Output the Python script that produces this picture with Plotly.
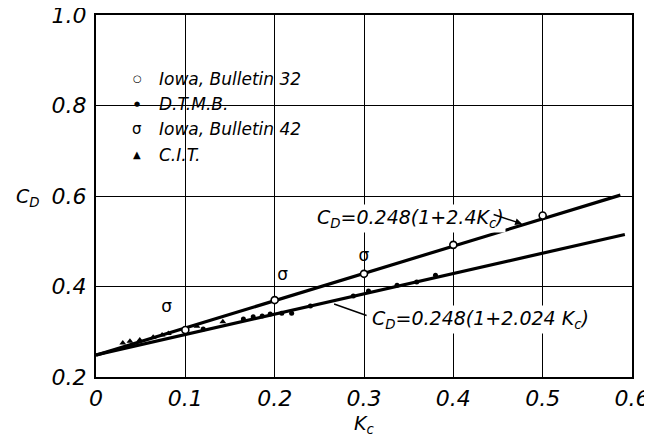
import plotly.graph_objects as go

# ---- data ----
iowa32_x = [0.10, 0.20, 0.30, 0.40, 0.50]
iowa32_y = [0.304, 0.370, 0.428, 0.492, 0.557]

dtmb_x = [0.100, 0.120, 0.165, 0.176, 0.186, 0.195, 0.208, 0.219, 0.240, 0.288, 0.305, 0.337, 0.359, 0.380]
dtmb_y = [0.298, 0.306, 0.328, 0.333, 0.335, 0.339, 0.341, 0.341, 0.357, 0.379, 0.390, 0.403, 0.410, 0.425]

iowa42_x = [0.079, 0.209, 0.300]
iowa42_y = [0.352, 0.423, 0.466]

cit_x = [0.030, 0.038, 0.049, 0.064, 0.074, 0.081, 0.113, 0.142]
cit_y = [0.275, 0.279, 0.282, 0.288, 0.293, 0.296, 0.312, 0.322]

upper_line_x = [0.0, 0.587]
upper_line_y = [0.248, 0.602]
lower_line_x = [0.0, 0.592]
lower_line_y = [0.249, 0.515]

x_ticks = [0, 0.1, 0.2, 0.3, 0.4, 0.5, 0.6]
x_ticklabels = ["0", "0.1", "0.2", "0.3", "0.4", "0.5", "0.6"]
y_ticks = [0.2, 0.4, 0.6, 0.8, 1.0]
y_ticklabels = ["0.2", "0.4", "0.6", "0.8", "1.0"]

legend_labels = ["Iowa, Bulletin 32", "D.T.M.B.", "Iowa, Bulletin 42", "C.I.T."]
legend_symbols = ["○", "●", "σ", "▲"]

FONT = "DejaVu Sans"

fig = go.Figure()

fig.add_trace(go.Scatter(x=upper_line_x, y=upper_line_y, mode="lines",
                         line=dict(color="black", width=3.2), showlegend=False))
fig.add_trace(go.Scatter(x=lower_line_x, y=lower_line_y, mode="lines",
                         line=dict(color="black", width=3.2), showlegend=False))

fig.add_trace(go.Scatter(x=cit_x, y=cit_y, mode="markers",
                         marker=dict(symbol="triangle-up", size=6, color="black"),
                         showlegend=False))
fig.add_trace(go.Scatter(x=dtmb_x, y=dtmb_y, mode="markers",
                         marker=dict(symbol="circle", size=5, color="black"),
                         showlegend=False))
fig.add_trace(go.Scatter(x=iowa32_x, y=iowa32_y, mode="markers",
                         marker=dict(symbol="circle", size=7, color="white",
                                     line=dict(color="black", width=1.6)),
                         showlegend=False))
fig.add_trace(go.Scatter(x=iowa42_x, y=iowa42_y, mode="text", text=["σ"] * len(iowa42_x),
                         textfont=dict(family=FONT, size=17, color="black"),
                         textposition="middle center", showlegend=False))

# legend drawn as text
leg_y = [0.859, 0.803, 0.748, 0.691]
leg_sizes = [10, 7, 15, 10]
for sym, lab, yy, sz in zip(legend_symbols, legend_labels, leg_y, leg_sizes):
    fig.add_annotation(x=0.046, y=yy, text=sym, showarrow=False, xanchor="center",
                       font=dict(family=FONT, size=sz, color="black"))
    fig.add_annotation(x=0.068, y=yy, text=lab, showarrow=False, xanchor="left",
                       font=dict(family=FONT, size=17, color="black", style="italic"))

# equations
fig.add_annotation(x=0.352, y=0.551, text="C<sub>D</sub>=0.248(1+2.4K<sub>c</sub>)",
                   showarrow=False, font=dict(family=FONT, size=19, color="black", style="italic"),
                   bgcolor="white")
fig.add_annotation(x=(522 - 96) / 893, y=0.2 + (377 - 224) / 452.5, ax=-30, ay=-10, text="",
                   showarrow=True, arrowhead=2, arrowsize=1, arrowwidth=1.4, arrowcolor="black")
fig.add_annotation(x=0.430, y=0.326, text="C<sub>D</sub>=0.248(1+2.024 K<sub>c</sub>)",
                   showarrow=False, font=dict(family=FONT, size=19, color="black", style="italic"),
                   bgcolor="white")
fig.add_annotation(x=(334 - 96) / 893, y=0.2 + (377 - 304) / 452.5, ax=34, ay=12, text="",
                   showarrow=True, arrowhead=0, arrowwidth=1.4, arrowcolor="black")

# axis titles
fig.add_annotation(xref="paper", yref="paper", x=-0.127, y=0.497, xanchor="center",
                   yanchor="middle", text="C<sub>D</sub>",
                   showarrow=False, font=dict(family=FONT, size=19, color="black", style="italic"))
fig.add_annotation(xref="paper", yref="paper", x=0.5, y=-0.13, xanchor="center",
                   yanchor="middle", text="K<sub>c</sub>", showarrow=False,
                   font=dict(family=FONT, size=19, color="black", style="italic"))

axis_common = dict(showgrid=True, gridcolor="black", gridwidth=1.3, zeroline=False,
                   showline=True, linecolor="black", linewidth=2.2, mirror=True,
                   ticks="", automargin=False, ticklabeloverflow="allow")

fig.update_xaxes(range=[0, 0.6], tickvals=x_ticks, ticktext=x_ticklabels,
                 ticklabelstandoff=0,
                 tickfont=dict(family=FONT, size=22, color="black", style="italic"),
                 **axis_common)
fig.update_yaxes(range=[0.2, 1.0], tickvals=y_ticks, ticktext=y_ticklabels,
                 ticklabelstandoff=3,
                 tickfont=dict(family=FONT, size=22, color="black", style="italic"),
                 **axis_common)

# page body has an 8px margin, so offset margins to place the plot area as in the reference
fig.update_layout(width=652, height=445, plot_bgcolor="white", paper_bgcolor="white",
                  margin=dict(l=88, r=28, t=7, b=76), showlegend=False)

fig.write_html("out.html")
